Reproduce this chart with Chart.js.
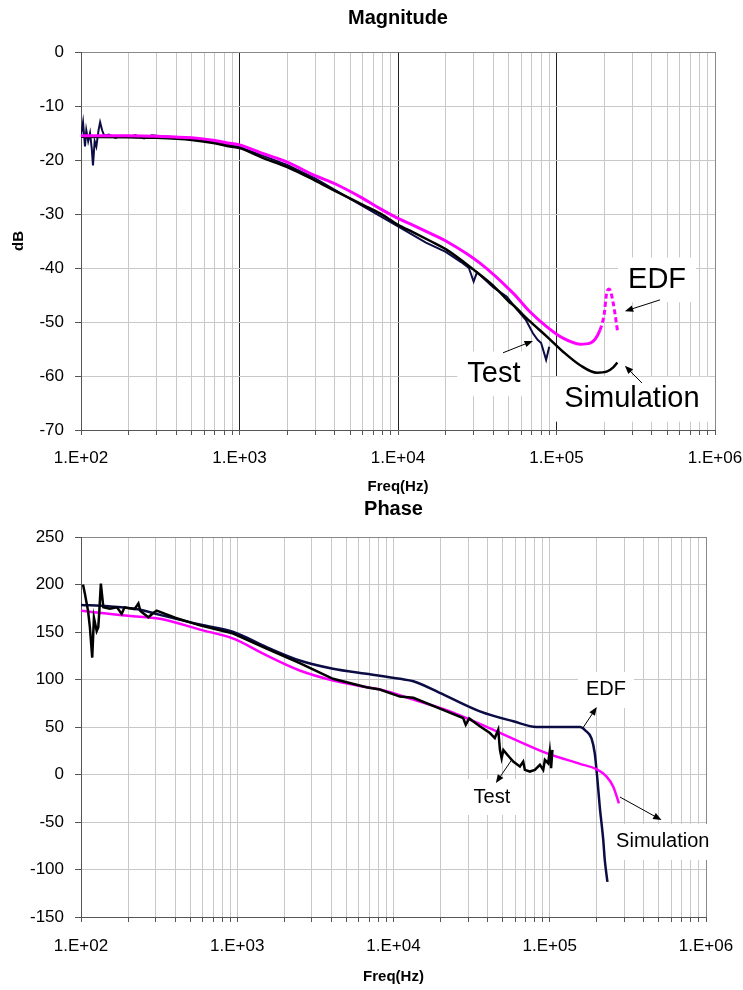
<!DOCTYPE html>
<html>
<head>
<meta charset="utf-8">
<script src="https://cdn.jsdelivr.net/npm/chart.js@4.4.1/dist/chart.umd.min.js"></script>
<style>
  html, body { margin: 0; padding: 0; background: #fff; }
  #wrap { position: relative; width: 743px; height: 990px; }
  canvas { position: absolute; left: 0; }
  #magChart { top: 0; }
  #phaseChart { top: 497px; }
</style>
</head>
<body>
<div id="wrap">
  <canvas id="magChart" width="743" height="497"></canvas>
  <canvas id="phaseChart" width="743" height="493"></canvas>
</div>
<script>
// ---- axis ticks ----
const freqTicks = [
  100, 200, 300, 400, 500, 600, 700, 800, 900,
  1000, 2000, 3000, 4000, 5000, 6000, 7000, 8000, 9000,
  10000, 20000, 30000, 40000, 50000, 60000, 70000, 80000, 90000,
  100000, 200000, 300000, 400000, 500000, 600000, 700000, 800000, 900000,
  1000000
];
const decadeValues = [100, 1000, 10000, 100000, 1000000];
const decadeLabels = ['1.E+02', '1.E+03', '1.E+04', '1.E+05', '1.E+06'];

// ---- Magnitude (dB) ----
const magTestFreq = [100, 103, 106, 108, 111, 114, 117, 119, 122, 125, 129, 132, 136, 140, 150, 165, 180, 200, 220, 250,
  280, 320, 400, 600, 1000, 2000, 3000, 5000, 10000, 15000, 20000, 25000, 28000, 30000, 31500, 40000, 48600, 56000, 64000, 71000,
  76000, 80000, 86000, 90000];
const magTestDb = [-15.5, -13.0, -17.5, -14.5, -16.5, -15.0, -18.0, -21.0, -16.5, -17.5, -14.5, -13.0, -14.5, -15.5, -15.3, -15.9, -15.5, -15.8, -15.4, -16.0,
  -15.4, -15.6, -15.8, -16.4, -17.6, -20.9, -23.4, -27.2, -32.3, -35.3, -37.0, -38.9, -40.0, -42.5, -40.8, -43.6, -45.3, -47.6, -49.6, -52.1,
  -53.3, -53.9, -57.0, -54.6];

const magSimFreq = [100, 200, 300, 500, 700, 870, 1000, 1400, 2000, 3000, 4000, 6000, 7700, 10000, 12500, 16000, 20000, 30000, 40000, 50000,
  53400, 68000, 87000, 110000, 141000, 180000, 207000, 228000, 242000];
const magSimDb = [-15.7, -15.8, -15.9, -16.3, -16.9, -17.5, -17.8, -19.6, -21.3, -23.8, -25.7, -28.3, -29.9, -32.0, -33.4, -35.0, -36.5, -40.3, -43.3, -46.2,
  -46.9, -49.9, -52.7, -55.5, -58.0, -59.4, -59.2, -58.4, -57.5];

const magEdfFreq = [100, 200, 300, 500, 700, 870, 1000, 1400, 2000, 3000, 4000, 6000, 7700, 10000, 12500, 16000, 20300, 32900, 53400, 68000,
  87000, 110000, 141000, 163000, 188000, 200000, 207000, 215000, 228000, 243000];
const magEdfDb = [-15.5, -15.5, -15.6, -15.9, -16.4, -16.9, -17.2, -18.8, -20.4, -22.9, -24.4, -27.1, -29.0, -30.8, -32.1, -33.6, -35.1, -39.1, -44.7, -48.1,
  -50.9, -53.0, -54.1, -53.9, -51.5, -48.5, -44.7, -43.9, -46.5, -51.8];

// ---- Phase (deg) ----
const phaseTestFreq = [103, 106, 111, 114, 118, 121, 126, 129, 131, 134, 139, 153, 170, 182, 190, 220, 233, 240, 270, 290,
  305, 400, 577, 944, 1540, 2510, 4100, 6700, 8180, 11000, 13400, 21900, 27900, 29000, 30500, 35700, 41400, 44500, 46800, 48000,
  49200, 50500, 54000, 58400, 64400, 67600, 69300, 74600, 80300, 86500, 90800, 93100, 97700, 100000, 102000, 104000];
const phaseTestDeg = [200, 190, 172, 155, 123, 165, 151, 155, 172, 201, 176, 174.5, 176, 169, 176, 174, 180, 172, 165.5, 170,
  172.5, 165, 157, 148.3, 132.4, 117.3, 100.7, 91.9, 89.4, 82, 80.7, 66.5, 59.5, 52.4, 59, 50.7, 43.6, 38.4, 47.1, 26,
  17.2, 25.7, 20, 13.6, 8.4, 13.6, 4.9, 3.1, 4.9, 10.2, 4.9, 15.4, 11.9, 24.2, 6.6, 26];

const phaseEdfFreq = [100, 150, 230, 320, 577, 944, 1540, 2510, 4100, 6700, 11000, 13400, 21900, 35700, 58400, 82400, 156000, 170000, 185000, 194000,
  201000, 209000, 220000, 225000, 234000];
const phaseEdfDeg = [178.5, 177, 174, 168, 157.8, 150, 134.1, 120, 111.3, 106, 100.7, 98.2, 82.4, 66.5, 56, 50, 50, 46, 38, 22.5,
  -2, -34, -69, -90, -113];

const phaseSimFreq = [100, 200, 320, 577, 944, 1540, 2510, 4100, 6700, 8180, 13400, 21900, 35700, 58400, 95400, 156000, 199000, 231000, 255000, 277000];
const phaseSimDeg = [172.5, 167, 164, 152.5, 143, 125.4, 109.5, 99, 92, 89.4, 78.9, 67.6, 53.2, 37.6, 22.5, 11.2, 5.6, -2.2, -12.8, -30.3];

// ---- callouts: [text, freq, value] and arrows: [fromFreq, fromValue, toFreq, toValue] ----
const magLabels = [['EDF', 431000, -42.2], ['Test', 40300, -59.6], ['Simulation', 299000, -64.3]];
const magArrows = [[450000, -45.9, 270000, -48.0], [46000, -55.7, 71000, -53.5], [346000, -61.3, 270000, -58.1]];
const phaseLabels = [['EDF', 229000, 89], ['Test', 42600, -23.7], ['Simulation', 529000, -71]];
const phaseArrows = [[163000, 49, 200000, 71], [57000, 15.3, 45200, -9], [281000, -23.7, 519000, -47.9]];

const FONT = "'Liberation Sans', Arial, sans-serif";
Chart.defaults.font.family = FONT;
Chart.defaults.color = '#000';

function points(xs, ys) {
  return xs.map((x, i) => ({ x: x, y: ys[i] }));
}

function drawArrow(ctx, x1, y1, x2, y2) {
  const a = Math.atan2(y2 - y1, x2 - x1);
  const h = 9;
  ctx.beginPath();
  ctx.moveTo(x1, y1);
  ctx.lineTo(x2 - 4 * Math.cos(a), y2 - 4 * Math.sin(a));
  ctx.stroke();
  ctx.beginPath();
  ctx.moveTo(x2, y2);
  ctx.lineTo(x2 - h * Math.cos(a - 0.38), y2 - h * Math.sin(a - 0.38));
  ctx.lineTo(x2 - h * Math.cos(a + 0.38), y2 - h * Math.sin(a + 0.38));
  ctx.closePath();
  ctx.fill();
}

// text boxes with arrows, like the Excel callouts
const callouts = {
  id: 'callouts',
  beforeDatasetsDraw(chart, args, opts) {
    const { ctx, scales: { x, y } } = chart;
    ctx.save();
    ctx.font = opts.size + 'px ' + FONT;
    ctx.fillStyle = '#fff';
    opts.labels.forEach(([text, fx, fy]) => {
      const w = ctx.measureText(text).width;
      const cx = x.getPixelForValue(fx);
      const cy = y.getPixelForValue(fy);
      ctx.fillRect(cx - w / 2 - opts.padX, cy - opts.size * 0.6 - opts.padY,
        w + 2 * opts.padX, opts.size * 1.2 + 2 * opts.padY);
    });
    ctx.restore();
  },
  afterDatasetsDraw(chart, args, opts) {
    const { ctx, scales: { x, y } } = chart;
    ctx.save();
    ctx.strokeStyle = '#000';
    ctx.fillStyle = '#000';
    ctx.lineWidth = 1;
    opts.arrows.forEach(a => {
      drawArrow(ctx, x.getPixelForValue(a[0]), y.getPixelForValue(a[1]),
        x.getPixelForValue(a[2]), y.getPixelForValue(a[3]));
    });
    ctx.font = opts.size + 'px ' + FONT;
    ctx.textAlign = 'center';
    ctx.textBaseline = 'middle';
    opts.labels.forEach(([text, fx, fy]) => {
      ctx.fillText(text, x.getPixelForValue(fx), y.getPixelForValue(fy));
    });
    ctx.restore();
  }
};

function freqAxis(opts) {
  return {
    type: 'logarithmic',
    min: 100,
    max: 1000000,
    afterBuildTicks: s => { s.ticks = freqTicks.map(v => ({ value: v })); },
    afterFit: s => { s.height = opts.height; s.paddingLeft = 0; s.paddingRight = 0; },
    ticks: {
      autoSkip: false,
      maxRotation: 0,
      minRotation: 0,
      padding: opts.labelPad,
      font: { size: 17 },
      color: '#000',
      callback: v => {
        const i = decadeValues.indexOf(v);
        return i >= 0 ? decadeLabels[i] : '';
      }
    },
    grid: {
      color: ctx => {
        const v = ctx.tick && ctx.tick.value;
        if (v === 1000000) return '#888';
        if (opts.darkDecades && decadeValues.indexOf(v) > 0) return '#222';
        return '#c8c8c8';
      },
      tickLength: 5,
      tickColor: '#555'
    },
    border: { color: '#555' },
    title: {
      display: true,
      text: 'Freq(Hz)',
      font: { size: 15, weight: 'bold' },
      padding: { top: 0, bottom: opts.titlePad }
    }
  };
}

function valueAxis(min, max, step, title) {
  return {
    min: min,
    max: max,
    afterFit: s => { s.width = 81; s.paddingTop = 0; s.paddingBottom = 0; },
    ticks: { stepSize: step, padding: 11, font: { size: 17 }, color: '#000' },
    grid: {
      color: ctx => (ctx.tick && ctx.tick.value === max ? '#888' : '#c8c8c8'),
      tickLength: 6,
      tickColor: '#555'
    },
    border: { color: '#555' },
    title: {
      display: !!title,
      text: title || '',
      font: { size: 15, weight: 'bold' },
      padding: { top: 10, bottom: 0 }
    }
  };
}

function createMagnitudeChart() {
  const ctx = document.getElementById('magChart').getContext('2d');
  new Chart(ctx, {
    type: 'line',
    data: {
      datasets: [
        {
          label: 'EDF',
          data: points(magEdfFreq, magEdfDb),
          borderColor: '#ff00ff',
          borderWidth: 3,
          cubicInterpolationMode: 'monotone',
          segment: { borderDash: c => (c.p0.parsed.x >= 188000 ? [5, 3] : undefined) }
        },
        {
          label: 'Simulation',
          data: points(magSimFreq, magSimDb),
          borderColor: '#000000',
          borderWidth: 2.5,
          cubicInterpolationMode: 'monotone'
        },
        {
          label: 'Test',
          data: points(magTestFreq, magTestDb),
          borderColor: '#0c0c45',
          borderWidth: 2
        }
      ]
    },
    options: {
      responsive: false,
      animation: false,
      elements: { point: { radius: 0 }, line: { tension: 0 } },
      layout: { padding: { top: 0, left: 0, right: 28, bottom: 0 } },
      scales: {
        x: freqAxis({ height: 67, labelPad: 13, titlePad: 1, darkDecades: true }),
        y: valueAxis(-70, 0, 10, 'dB')
      },
      plugins: {
        legend: { display: false },
        tooltip: { enabled: false },
        title: {
          display: true,
          fullSize: false,
          text: 'Magnitude',
          font: { size: 20, weight: 'bold' },
          color: '#000',
          padding: { top: 6, bottom: 22 }
        },
        callouts: { labels: magLabels, arrows: magArrows, size: 29, padX: 10, padY: 5 }
      }
    },
    plugins: [callouts]
  });
}

function createPhaseChart() {
  const ctx = document.getElementById('phaseChart').getContext('2d');
  new Chart(ctx, {
    type: 'line',
    data: {
      datasets: [
        {
          label: 'Test',
          data: points(phaseTestFreq, phaseTestDeg),
          borderColor: '#000000',
          borderWidth: 2.5
        },
        {
          label: 'Simulation',
          data: points(phaseSimFreq, phaseSimDeg),
          borderColor: '#ff00ff',
          borderWidth: 2.5,
          cubicInterpolationMode: 'monotone'
        },
        {
          label: 'EDF',
          data: points(phaseEdfFreq, phaseEdfDeg),
          borderColor: '#0c0c45',
          borderWidth: 2.5,
          cubicInterpolationMode: 'monotone'
        }
      ]
    },
    options: {
      responsive: false,
      animation: false,
      elements: { point: { radius: 0 }, line: { tension: 0 } },
      layout: { padding: { top: 0, left: 0, right: 37, bottom: 0 } },
      scales: {
        x: freqAxis({ height: 73, labelPad: 14, titlePad: 4, darkDecades: false }),
        y: valueAxis(-150, 250, 50, null)
      },
      plugins: {
        legend: { display: false },
        tooltip: { enabled: false },
        title: {
          display: true,
          fullSize: false,
          text: 'Phase',
          font: { size: 20, weight: 'bold' },
          color: '#000',
          padding: { top: 0, bottom: 16 }
        },
        callouts: { labels: phaseLabels, arrows: phaseArrows, size: 20, padX: 8, padY: 6 }
      }
    },
    plugins: [callouts]
  });
}

createMagnitudeChart();
createPhaseChart();
</script>
</body>
</html>
